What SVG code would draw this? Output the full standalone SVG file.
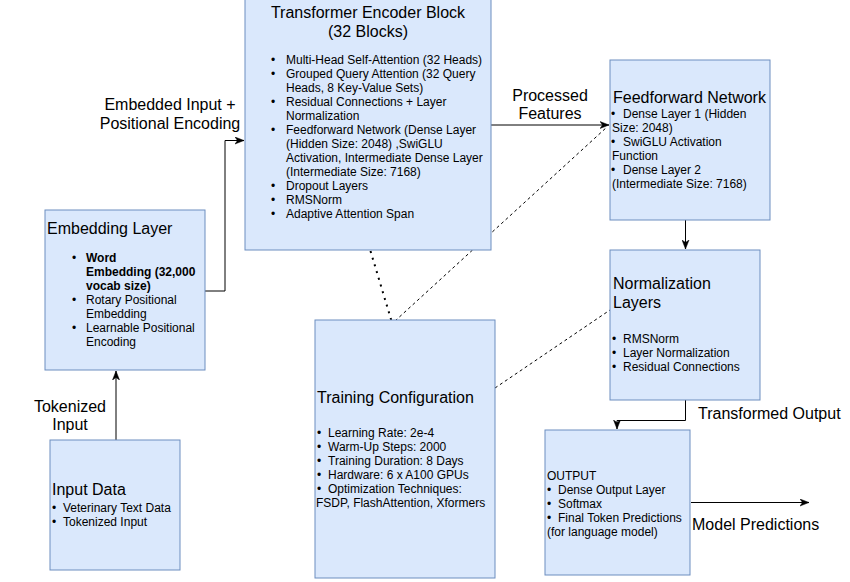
<svg xmlns="http://www.w3.org/2000/svg" width="850" height="582" viewBox="0 0 850 582">
<defs>
<style>
.box{fill:#dae8fc;stroke:#6c8ebf;stroke-width:1}
text{font-family:"Liberation Sans",Arial,Helvetica,sans-serif;fill:#000}
.t{font-size:16px}
.b{font-size:12px}
.bold{font-weight:bold}
.line{fill:none;stroke:#000;stroke-width:1}
.dash{fill:none;stroke:#000;stroke-width:1;stroke-dasharray:3 3}
.dot{fill:none;stroke:#000;stroke-width:2;stroke-dasharray:2 5}
</style>
<marker id="arr" markerUnits="userSpaceOnUse" markerWidth="10" markerHeight="8" refX="9" refY="4" orient="auto">
<path d="M0,0.5 L9,4 L0,7.5 L2.5,4 Z" fill="#000" stroke="#000" stroke-width="0.5"/>
</marker>
</defs>

<g id="connectors">
<path class="line" d="M116,440 L116,371" marker-end="url(#arr)"/>
<path class="line" d="M205,291 L225,291 L225,140.5 L244,140.5" marker-end="url(#arr)"/>
<path class="line" d="M491,125 L609,125" marker-end="url(#arr)"/>
<path class="line" d="M685.5,220 L685.5,249" marker-end="url(#arr)"/>
<path class="line" d="M685.5,400 L685.5,420.5 L617,420.5 L617,429" marker-end="url(#arr)"/>
<path class="line" d="M691,502.5 L809,502.5" marker-end="url(#arr)"/>
<path class="dot" d="M370.5,251 L391.5,321"/>
<path class="dash" d="M395,321 L607,127"/>
<path class="dash" d="M495,388 L610,310"/>
<text class="t" x="70" y="412" text-anchor="middle">Tokenized</text>
<text class="t" x="70" y="430" text-anchor="middle">Input</text>
<text class="t" x="170" y="110" text-anchor="middle">Embedded Input +</text>
<text class="t" x="170" y="129" text-anchor="middle">Positional Encoding</text>
<text class="t" x="550" y="101" text-anchor="middle">Processed</text>
<text class="t" x="550" y="119" text-anchor="middle">Features</text>
<text class="t" x="698" y="419">Transformed Output</text>
<text class="t" x="692" y="530">Model Predictions</text>
</g>

<g id="encoder">
<rect class="box" x="245" y="-10" width="246" height="260"/>
<text class="t" x="368" y="18" text-anchor="middle">Transformer Encoder Block</text>
<text class="t" x="368" y="37" text-anchor="middle">(32 Blocks)</text>
<g class="b">
<text x="271" y="64">•</text><text x="286" y="64">Multi-Head Self-Attention (32 Heads)</text>
<text x="271" y="78">•</text><text x="286" y="78">Grouped Query Attention (32 Query</text>
<text x="286" y="92">Heads, 8 Key-Value Sets)</text>
<text x="271" y="106">•</text><text x="286" y="106">Residual Connections + Layer</text>
<text x="286" y="120">Normalization</text>
<text x="271" y="134">•</text><text x="286" y="134">Feedforward Network (Dense Layer</text>
<text x="286" y="148">(Hidden Size: 2048) ,SwiGLU</text>
<text x="286" y="162">Activation, Intermediate Dense Layer</text>
<text x="286" y="176">(Intermediate Size: 7168)</text>
<text x="271" y="190">•</text><text x="286" y="190">Dropout Layers</text>
<text x="271" y="204">•</text><text x="286" y="204">RMSNorm</text>
<text x="271" y="218">•</text><text x="286" y="218">Adaptive Attention Span</text>
</g>
</g>

<g id="embedding">
<rect class="box" x="45" y="210" width="160" height="160"/>
<text class="t" x="47" y="234">Embedding Layer</text>
<g class="b">
<text x="72" y="262">•</text><text class="bold" x="86" y="262">Word</text>
<text class="bold" x="86" y="276">Embedding (32,000</text>
<text class="bold" x="86" y="290">vocab size)</text>
<text x="72" y="304">•</text><text x="86" y="304">Rotary Positional</text>
<text x="86" y="318">Embedding</text>
<text x="72" y="332">•</text><text x="86" y="332">Learnable Positional</text>
<text x="86" y="346">Encoding</text>
</g>
</g>

<g id="input">
<rect class="box" x="50" y="440" width="130" height="130"/>
<text class="t" x="52" y="495">Input Data</text>
<g class="b">
<text x="52" y="512">•</text><text x="63" y="512">Veterinary Text Data</text>
<text x="52" y="526">•</text><text x="63" y="526">Tokenized Input</text>
</g>
</g>

<g id="feedforward">
<rect class="box" x="610" y="60" width="160" height="160"/>
<text class="t" x="613" y="103">Feedforward Network</text>
<g class="b">
<text x="611" y="118">•</text><text x="623" y="118">Dense Layer 1 (Hidden</text>
<text x="612" y="132">Size: 2048)</text>
<text x="611" y="146">•</text><text x="623" y="146">SwiGLU Activation</text>
<text x="612" y="160">Function</text>
<text x="611" y="174">•</text><text x="623" y="174">Dense Layer 2</text>
<text x="612" y="188">(Intermediate Size: 7168)</text>
</g>
</g>

<g id="normalization">
<rect class="box" x="610" y="250" width="150" height="150"/>
<text class="t" x="613" y="289">Normalization</text>
<text class="t" x="613" y="308">Layers</text>
<g class="b">
<text x="612" y="343">•</text><text x="623" y="343">RMSNorm</text>
<text x="612" y="357">•</text><text x="623" y="357">Layer Normalization</text>
<text x="612" y="371">•</text><text x="623" y="371">Residual Connections</text>
</g>
</g>

<g id="training">
<rect class="box" x="315" y="320" width="180" height="258"/>
<text class="t" x="317" y="403">Training Configuration</text>
<g class="b">
<text x="317" y="437">•</text><text x="328" y="437">Learning Rate: 2e-4</text>
<text x="317" y="451">•</text><text x="328" y="451">Warm-Up Steps: 2000</text>
<text x="317" y="465">•</text><text x="328" y="465">Training Duration: 8 Days</text>
<text x="317" y="479">•</text><text x="328" y="479">Hardware: 6 x A100 GPUs</text>
<text x="317" y="493">•</text><text x="328" y="493">Optimization Techniques:</text>
<text x="316" y="507">FSDP, FlashAttention, Xformers</text>
</g>
</g>

<g id="output">
<rect class="box" x="545" y="430" width="145" height="145"/>
<g class="b">
<text x="547" y="480">OUTPUT</text>
<text x="547" y="494">•</text><text x="558" y="494">Dense Output Layer</text>
<text x="547" y="508">•</text><text x="558" y="508">Softmax</text>
<text x="547" y="522">•</text><text x="558" y="522">Final Token Predictions</text>
<text x="547" y="536">(for language model)</text>
</g>
</g>
</svg>
